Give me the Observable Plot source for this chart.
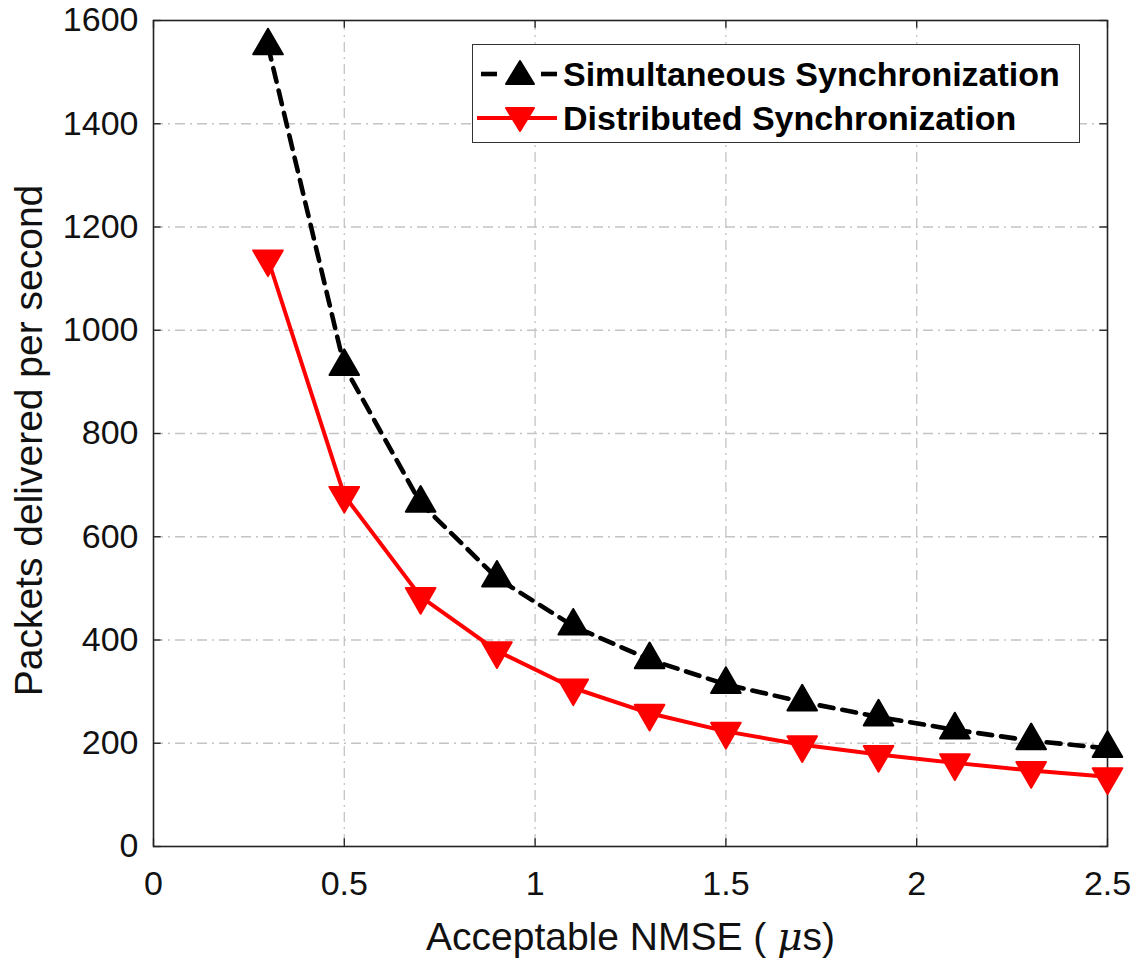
<!DOCTYPE html>
<html><head><meta charset="utf-8">
<script src="https://cdn.jsdelivr.net/npm/d3@7"></script>
<script src="https://cdn.jsdelivr.net/npm/@observablehq/plot@0.6"></script>
<style>
body{margin:0;background:#fff;}
#wrap{position:relative;width:1136px;height:961px;font-family:"Liberation Sans",Arial,Helvetica,sans-serif;}
#legend{position:absolute;left:472px;top:44px;width:608px;height:99px;border:1.5px solid #333;background:#fff;box-sizing:border-box;}
.row{position:absolute;left:0;height:44px;display:flex;align-items:center;}
.row svg{display:block;}
.row span{font-weight:bold;font-size:34px;color:#000;margin-left:4px;white-space:nowrap;}
</style>
</head><body>
<div id="wrap"></div>
<script>
const nmse = [0.3, 0.5, 0.7, 0.9, 1.1, 1.3, 1.5, 1.7, 1.9, 2.1, 2.3, 2.5];
const simultaneous = [1551, 930, 665, 520, 427, 362, 314, 280, 251, 226, 205, 190];
const distributed = [1138, 680, 484, 379, 307, 258, 223, 197, 178, 162, 147, 135];
const xTicks = [0, 0.5, 1, 1.5, 2, 2.5];
const yTicks = [0, 200, 400, 600, 800, 1000, 1200, 1400, 1600];
const seriesNames = ["Simultaneous Synchronization", "Distributed Synchronization"];
const xLabel = "Acceptable NMSE ( μs)";
const yLabel = "Packets delivered per second";

const simData = nmse.map((x, i) => ({x, y: simultaneous[i]}));
const disData = nmse.map((x, i) => ({x, y: distributed[i]}));

const font = '"Liberation Sans",Arial,Helvetica,sans-serif';
const gridStyle = {stroke: "#c4c4c4", strokeWidth: 1.3, strokeDasharray: "10,5,2,5"};

const chart = Plot.plot({
  width: 1136,
  height: 961,
  marginLeft: 153,
  marginRight: 29,
  marginTop: 20,
  marginBottom: 115,
  style: {fontFamily: font, background: "#fff"},
  x: {domain: [0, 2.5], ticks: xTicks},
  y: {domain: [0, 1600], ticks: yTicks},
  marks: [
    Plot.ruleX(xTicks.slice(1, -1), {...gridStyle}),
    Plot.ruleY(yTicks.slice(1, -1), {...gridStyle}),
    // inward ticks
    Plot.ruleX(xTicks, {y1: 0, y2: 15, stroke: "#222", strokeWidth: 1.3}),
    Plot.ruleX(xTicks, {y1: 1585, y2: 1600, stroke: "#222", strokeWidth: 1.3}),
    Plot.ruleY(yTicks, {x1: 0, x2: 0.02, stroke: "#222", strokeWidth: 1.3}),
    Plot.ruleY(yTicks, {x1: 2.48, x2: 2.5, stroke: "#222", strokeWidth: 1.3}),
    Plot.frame({stroke: "#222", strokeWidth: 1.6}),
    Plot.axisX(xTicks, {tickSize: 0, tickPadding: 24, fontSize: 34, tickFormat: d => String(d), label: null, fill: "#111"}),
    Plot.axisY(yTicks, {tickSize: 0, tickPadding: 15, fontSize: 34, tickFormat: d => String(d), label: null, fill: "#111"}),
    Plot.text([xLabel], {frameAnchor: "bottom", textAnchor: "middle", lineAnchor: "middle", dy: 91, fontSize: 39, fill: "#111"}),
    Plot.text([yLabel], {frameAnchor: "left", textAnchor: "middle", lineAnchor: "middle", dx: -124, dy: 7, rotate: -90, fontSize: 39, fill: "#111"}),
    Plot.line(simData, {x: "x", y: "y", stroke: "#000", strokeWidth: 4.6, strokeDasharray: "14,9"}),
    Plot.line(disData, {x: "x", y: "y", stroke: "#ff0000", strokeWidth: 4}),
    Plot.dot(simData, {x: "x", y: "y", symbol: "triangle", r: 11, fill: "#000", stroke: "#000", strokeWidth: 2, strokeLinejoin: "round"}),
    Plot.dot(disData, {x: "x", y: "y", symbol: "triangle", rotate: 180, r: 11, fill: "#ff0000", stroke: "#ff0000", strokeWidth: 2, strokeLinejoin: "round"})
  ]
});

const wrap = document.getElementById("wrap");
wrap.appendChild(chart);

// italic mu in x label
d3.select(chart).selectAll("text").each(function() {
  if (this.textContent === xLabel) {
    const sel = d3.select(this);
    const t = sel.select("tspan").empty() ? sel : sel.select("tspan");
    t.text(null);
    t.append("tspan").text("Acceptable NMSE ( ");
    t.append("tspan").attr("font-style", "italic").attr("font-family", "DejaVu Serif, serif").text("μ");
    t.append("tspan").text("s)");
  }
});

// legend
const legend = document.createElement("div");
legend.id = "legend";
const rows = [
  {name: seriesNames[0], color: "#000", dashed: true, up: true, top: 7},
  {name: seriesNames[1], color: "#ff0000", dashed: false, up: false, top: 51}
];
rows.forEach(r => {
  const row = document.createElement("div");
  row.className = "row";
  row.style.top = r.top + "px";
  const tri = r.up ? "M0,-13 L14,10 L-14,10 Z" : "M0,13 L14,-10 L-14,-10 Z";
  const line = r.dashed
    ? `<line x1="8" y1="22" x2="24" y2="22" stroke="${r.color}" stroke-width="4.6"/><line x1="68" y1="22" x2="84" y2="22" stroke="${r.color}" stroke-width="4.6"/>`
    : `<line x1="4" y1="22" x2="84" y2="22" stroke="${r.color}" stroke-width="4"/>`;
  row.innerHTML = `<svg width="86" height="44">${line}<path transform="translate(47,22)" d="${tri}" fill="${r.color}" stroke="${r.color}" stroke-width="2" stroke-linejoin="round"/></svg><span>${r.name}</span>`;
  legend.appendChild(row);
});
wrap.appendChild(legend);
</script>
</body></html>
